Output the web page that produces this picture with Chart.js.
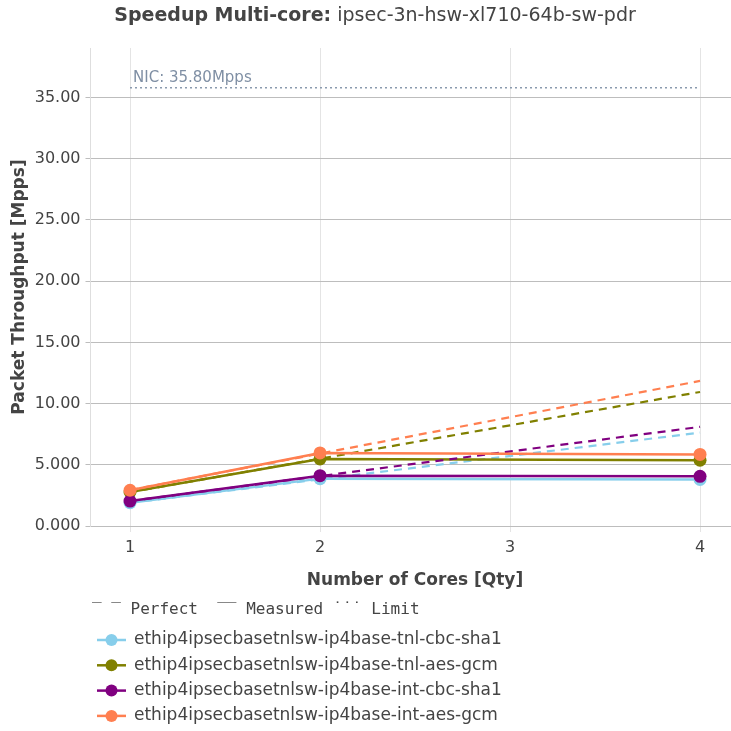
<!DOCTYPE html>
<html>
<head>
<meta charset="utf-8">
<script src="https://cdn.jsdelivr.net/npm/chart.js@4/dist/chart.umd.min.js"></script>
<style>
  html, body { margin: 0; padding: 0; background: #fff; }
</style>
</head>
<body>
<canvas id="speedupChart" width="731" height="731"></canvas>
<script>
// cores on the x axis and the four tests
const cores = [1, 2, 4];
const testNames = [
    'ethip4ipsecbasetnlsw-ip4base-tnl-cbc-sha1',
    'ethip4ipsecbasetnlsw-ip4base-tnl-aes-gcm',
    'ethip4ipsecbasetnlsw-ip4base-int-cbc-sha1',
    'ethip4ipsecbasetnlsw-ip4base-int-aes-gcm'
];
const testColors = ['#87ceeb', '#808000', '#800080', '#ff7f50'];

// measured throughput [Mpps]
const tnlCbcMeasured = [1.90, 3.87, 3.80];
const tnlGcmMeasured = [2.78, 5.48, 5.37];
const intCbcMeasured = [2.04, 4.11, 4.06];
const intGcmMeasured = [2.92, 5.97, 5.85];

// perfect scaling [Mpps]
const tnlCbcPerfect = [1.90, 3.81, 7.63];
const tnlGcmPerfect = [2.76, 5.50, 10.95];
const intCbcPerfect = [2.04, 4.08, 8.10];
const intGcmPerfect = [2.94, 5.92, 11.85];

// NIC limit
const nicLimit = 35.8;
const limitCores = [1, 4];

const yTicks = [0, 5, 10, 15, 20, 25, 30, 35];
const xTicks = [1, 2, 3, 4];

const measuredSeries = [tnlCbcMeasured, tnlGcmMeasured, intCbcMeasured, intGcmMeasured];
const perfectSeries = [tnlCbcPerfect, tnlGcmPerfect, intCbcPerfect, intGcmPerfect];

const toPoints = (xs, ys) => xs.map((x, i) => ({ x: x, y: ys[i] }));

const datasets = [];
testNames.forEach((name, i) => {
    datasets.push({
        label: name + ' perfect',
        data: toPoints(cores, perfectSeries[i]),
        borderColor: testColors[i],
        borderWidth: 2.2,
        borderDash: [8, 6],
        pointRadius: 0,
        fill: false,
        order: 20 - i * 2
    });
    datasets.push({
        label: name,
        data: toPoints(cores, measuredSeries[i]),
        borderColor: testColors[i],
        backgroundColor: testColors[i],
        borderWidth: 2.5,
        pointRadius: 6.5,
        pointBorderWidth: 0,
        fill: false,
        order: 19 - i * 2
    });
});
datasets.push({
    label: 'NIC limit',
    data: toPoints(limitCores, [nicLimit, nicLimit]),
    borderColor: '#8a9aae',
    borderWidth: 1.5,
    borderDash: [2, 3],
    pointRadius: 0,
    fill: false,
    order: 0
});

// title, axis titles, legend and NIC label
const decorations = {
    id: 'decorations',
    afterDraw(chart) {
        const ctx = chart.ctx;
        const xs = chart.scales.x, ys = chart.scales.y;
        ctx.save();

        // title
        ctx.textBaseline = 'middle';
        ctx.fillStyle = '#444';
        const boldPart = 'Speedup Multi-core:';
        const restPart = ' ipsec-3n-hsw-xl710-64b-sw-pdr';
        ctx.font = 'bold 19px "DejaVu Sans"';
        const w1 = ctx.measureText(boldPart).width;
        ctx.font = '19px "DejaVu Sans"';
        const w2 = ctx.measureText(restPart).width;
        const tx = 375 - (w1 + w2) / 2;
        ctx.font = 'bold 19px "DejaVu Sans"';
        ctx.textAlign = 'left';
        ctx.fillText(boldPart, tx, 16);
        ctx.font = '19px "DejaVu Sans"';
        ctx.fillText(restPart, tx + w1, 16);

        // axis titles
        ctx.font = 'bold 17px "DejaVu Sans"';
        ctx.textAlign = 'center';
        ctx.fillText('Number of Cores [Qty]', 415, 581);
        ctx.save();
        ctx.translate(20, 287);
        ctx.rotate(-Math.PI / 2);
        ctx.fillText('Packet Throughput [Mpps]', 0, 0);
        ctx.restore();

        // NIC label
        ctx.font = '15px "DejaVu Sans"';
        ctx.fillStyle = '#7f8fa4';
        ctx.textAlign = 'left';
        ctx.textBaseline = 'middle';
        ctx.fillText('NIC: 35.80Mpps', xs.getPixelForValue(limitCores[0]) + 3, 78);

        // legend header
        ctx.fillStyle = '#444';
        ctx.font = '16px "DejaVu Sans Mono"';
        ctx.fillText('‾ ‾ Perfect  ‾‾ Measured ˙˙˙ Limit', 92, 610);

        // legend entries
        ctx.font = '17px "DejaVu Sans"';
        testNames.forEach((name, i) => {
            const y = 640 + i * 25.3;
            ctx.strokeStyle = testColors[i];
            ctx.lineWidth = 2.5;
            ctx.beginPath();
            ctx.moveTo(97, y);
            ctx.lineTo(126, y);
            ctx.stroke();
            ctx.fillStyle = testColors[i];
            ctx.beginPath();
            ctx.arc(111.5, y, 6, 0, Math.PI * 2);
            ctx.fill();
            ctx.fillStyle = '#444';
            ctx.fillText(name, 134, y);
        });
        ctx.restore();
    }
};

new Chart(document.getElementById('speedupChart'), {
    type: 'line',
    data: { datasets: datasets },
    options: {
        responsive: false,
        animation: false,
        devicePixelRatio: 1,
        layout: { autoPadding: false, padding: { top: 48, left: 0, right: 0, bottom: 0 } },
        plugins: { legend: { display: false }, tooltip: { enabled: false } },
        scales: {
            x: {
                type: 'linear',
                min: 0.792,
                max: 4.163,
                afterBuildTicks: s => { s.ticks = xTicks.map(v => ({ value: v })); },
                afterFit: s => { s.height = 205; s.paddingLeft = 0; s.paddingRight = 0; },
                grid: { color: '#e4e4e4', tickLength: 6 },
                border: { display: false },
                ticks: {
                    font: { family: 'DejaVu Sans', size: 16 },
                    color: '#444',
                    padding: 6,
                    maxRotation: 0
                }
            },
            y: {
                min: 0,
                max: 39.05,
                afterBuildTicks: s => { s.ticks = yTicks.map(v => ({ value: v })); },
                afterFit: s => { s.width = 90.5; s.paddingTop = 0; s.paddingBottom = 0; },
                grid: { color: '#bdbdbd', tickLength: 5 },
                border: { display: true, color: '#dedede' },
                ticks: {
                    font: { family: 'DejaVu Sans', size: 16 },
                    color: '#444',
                    padding: 5,
                    callback: v => v >= 10 ? v.toFixed(2) : v.toFixed(3)
                }
            }
        }
    },
    plugins: [decorations]
});
</script>
</body>
</html>
